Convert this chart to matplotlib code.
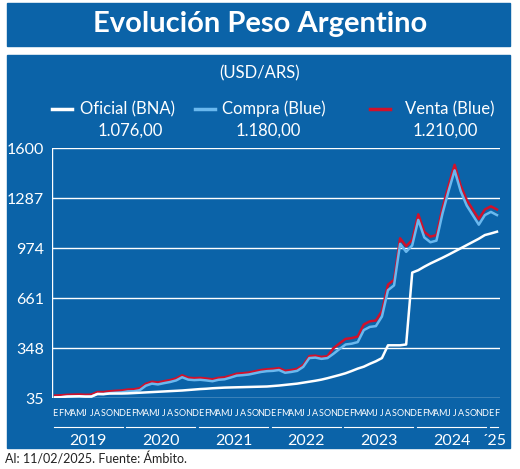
import matplotlib
matplotlib.use('Agg')
import matplotlib.pyplot as plt
from matplotlib.patches import Rectangle
from matplotlib.lines import Line2D

BLUE = "#0b63a8"
LIGHT = "#6ab8ee"
RED = "#d0112b"
FONT = "Lato"

# monthly data Jan 2019 .. Feb 2025
oficial = [39, 40, 44, 45, 46, 44, 44, 60, 59, 63, 63, 63,
           64, 66, 68, 70, 72, 74, 76, 78, 80, 82, 85, 88,
           91, 93, 96, 98, 100, 101, 102, 103, 104, 105, 106, 107,
           110, 113, 117, 121, 125, 131, 137, 143, 150, 159, 169, 179,
           190, 204, 219, 231, 249, 265, 285, 365, 365, 365, 370, 820,
           835, 857, 877, 895, 913, 932, 952, 972, 992, 1012, 1032, 1055,
           1065, 1076]
compra = [38, 40, 43, 44, 45, 43, 44, 60, 60, 65, 68, 70,
          76, 77, 84, 112, 125, 120, 128, 135, 145, 165, 150, 147,
          149, 145, 140, 149, 152, 163, 175, 178, 182, 190, 198, 203,
          205, 210, 193, 198, 205, 230, 285, 288, 280, 285, 312, 342,
          370, 375, 385, 460, 480, 485, 545, 710, 740, 1000, 950, 990,
          1150, 1040, 1010, 1020, 1190, 1330, 1460, 1330, 1240, 1180, 1120, 1180,
          1200, 1180]
venta = [c + (12 if c < 300 else 35) for c in compra]
yticks = [35, 348, 661, 974, 1287, 1600]
years = ["2019", "2020", "2021", "2022", "2023", "2024", "´25"]
months = "EFMAMJJASOND"

fig = plt.figure(figsize=(5.2, 4.69), dpi=100, facecolor="white")
W, H = 520, 469
def fx(px): return px / W
def fy(py): return 1 - py / H

fig.patches.append(Rectangle((fx(7), fy(46)), fx(503), 43 / H, transform=fig.transFigure,
                             color=BLUE, zorder=-5))
fig.patches.append(Rectangle((fx(7), fy(448)), fx(503), 393 / H, transform=fig.transFigure,
                             color=BLUE, zorder=-5))
fig.text(0.5, fy(24), "Evolución Peso Argentino", color="white", fontsize=21, fontweight="bold",
         family=FONT, ha="center", va="center")
fig.text(0.5, fy(73), "(USD/ARS)", color="white", fontsize=12, family=FONT, ha="center", va="center")
fig.text(fx(5), fy(459), "Al: 11/02/2025. Fuente: Ámbito.", color="#222222", fontsize=9,
         family=FONT, va="center")

# legend
leg = [("Oficial (BNA)", "white", 52, 80, "1.076,00", 130),
       ("Compra (Blue)", LIGHT, 195, 222, "1.180,00", 268),
       ("Venta (Blue)", RED, 370, 405, "1.210,00", 445)]
for name, col, x0, xt, val, xv in leg:
    fig.lines.append(Line2D([fx(x0), fx(x0 + 20)], [fy(109)] * 2, transform=fig.transFigure,
                            color=col, lw=2.5))
    fig.text(fx(xt), fy(109), name, color="white", fontsize=12, family=FONT, va="center")
    fig.text(fx(xv), fy(131), val, color="white", fontsize=12, family=FONT, va="center", ha="center")

ax = fig.add_axes([fx(52), fy(398), fx(448), 250 / H], zorder=2)
ax.set_facecolor(BLUE)
x = list(range(len(oficial)))
for t in yticks:
    ax.axhline(t, color="white", lw=1, zorder=1)
ax.plot(x, venta, color=RED, lw=1.8, zorder=2)
ax.plot(x, compra, color=LIGHT, lw=1.8, zorder=3)
ax.plot(x, oficial, color="white", lw=1.8, zorder=4)
ax.set_xlim(-0.5, len(x) - 0.5)
ax.set_ylim(35, 1600)
ax.set_yticks(yticks)
ax.set_yticklabels([str(t) for t in yticks], color="white", fontsize=11.5, family=FONT)
ax.tick_params(axis="y", length=0, pad=6)
ax.set_xticks([])
for s in ax.spines.values():
    s.set_visible(False)
ax.axvline(-0.5, color="white", lw=1)

trans = ax.get_xaxis_transform()
for i in x:
    ax.text(i, -0.06, months[i % 12], color="white", fontsize=6.5, family=FONT,
            ha="center", va="center", transform=trans, clip_on=False)
for k, yr in enumerate(years):
    a = k * 12 - 0.2
    b = min(k * 12 + 11.2, len(x) - 0.8)
    ax.plot([a, b], [-0.115, -0.115], color="white", lw=0.8, transform=trans, clip_on=False)
    ax.text((a + b) / 2, -0.17, yr, color="white", fontsize=11.5, family=FONT, ha="center",
            va="center", transform=trans, clip_on=False)

fig.savefig("out.png", dpi=100, facecolor="white")
